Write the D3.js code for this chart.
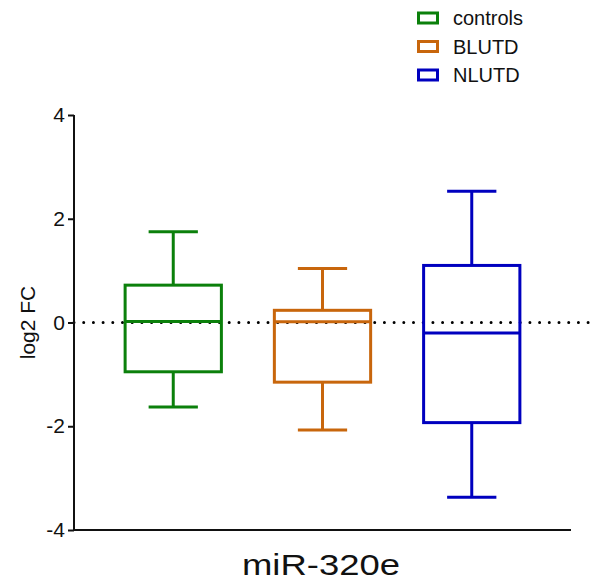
<!DOCTYPE html>
<html>
<head>
<meta charset="utf-8">
<script src="https://cdn.jsdelivr.net/npm/d3@7/dist/d3.min.js"></script>
<style>
  body { margin: 0; background: #fff; }
  text { font-family: "Liberation Sans", Arial, sans-serif; fill: #111; }
</style>
</head>
<body>
<svg id="chart" width="603" height="584"></svg>
<script>
// Box plot summaries of log2 fold change for miR-320e
const groups    = ["controls", "BLUTD", "NLUTD"];
const colors    = ["#0b800b", "#c8660c", "#0000bf"];
const whiskerLo = [-1.63, -2.07, -3.37];
const q1        = [-0.95, -1.15, -1.93];
const medians   = [0.02, 0.015, -0.20];
const q3        = [0.72, 0.235, 1.10];
const whiskerHi = [1.75, 1.04, 2.53];
const yTicks    = [-4, -2, 0, 2, 4];
const yLabel    = "log2 FC";
const xTitle    = "miR-320e";

const boxes = groups.map((g, i) => ({
  name: g, color: colors[i],
  lo: whiskerLo[i], q1: q1[i], med: medians[i], q3: q3[i], hi: whiskerHi[i]
}));

const svg = d3.select("#chart");
const plotLeft = 74, plotRight = 571, plotTop = 115, plotBottom = 530;

const y = d3.scaleLinear().domain([-4, 4]).range([plotBottom, plotTop]);
const x = d3.scalePoint().domain(groups).range([plotLeft, plotRight]).padding(0.665);
const boxW = x.step() * 0.645;
const capW = x.step() * 0.33;

// zero reference line (dotted)
svg.append("line")
  .attr("x1", plotLeft).attr("x2", 593)
  .attr("y1", y(0)).attr("y2", y(0))
  .attr("stroke", "#000").attr("stroke-width", 3)
  .attr("stroke-linecap", "round")
  .attr("stroke-dasharray", "0 9.7");

// boxes
const g = svg.append("g").selectAll("g").data(boxes).join("g")
  .attr("stroke", d => d.color).attr("stroke-width", 3).attr("fill", "none");

g.append("line")
  .attr("x1", d => x(d.name)).attr("x2", d => x(d.name))
  .attr("y1", d => y(d.hi)).attr("y2", d => y(d.q3));
g.append("line")
  .attr("x1", d => x(d.name)).attr("x2", d => x(d.name))
  .attr("y1", d => y(d.q1)).attr("y2", d => y(d.lo));
g.append("line")
  .attr("x1", d => x(d.name) - capW / 2).attr("x2", d => x(d.name) + capW / 2)
  .attr("y1", d => y(d.hi)).attr("y2", d => y(d.hi));
g.append("line")
  .attr("x1", d => x(d.name) - capW / 2).attr("x2", d => x(d.name) + capW / 2)
  .attr("y1", d => y(d.lo)).attr("y2", d => y(d.lo));
g.append("rect")
  .attr("x", d => x(d.name) - boxW / 2).attr("width", boxW)
  .attr("y", d => y(d.q3)).attr("height", d => y(d.q1) - y(d.q3))
  .attr("fill", "none");
g.append("line")
  .attr("x1", d => x(d.name) - boxW / 2).attr("x2", d => x(d.name) + boxW / 2)
  .attr("y1", d => y(d.med)).attr("y2", d => y(d.med));

// y axis
const yAxis = svg.append("g")
  .attr("transform", `translate(${plotLeft},0)`)
  .call(d3.axisLeft(y).tickValues(yTicks).tickSize(6).tickPadding(3).tickFormat(d => String(d)));
yAxis.attr("font-size", 21).attr("font-family", "Liberation Sans, Arial, sans-serif");
yAxis.select(".domain").attr("stroke", "#111").attr("stroke-width", 2).attr("d", `M0,${plotTop}V${plotBottom}`);
yAxis.selectAll(".tick line").attr("stroke", "#111").attr("stroke-width", 2);
yAxis.selectAll(".tick text").style("font-size", "21px").attr("fill", "#111");

// x axis line
svg.append("line")
  .attr("x1", plotLeft - 1).attr("x2", plotRight)
  .attr("y1", plotBottom).attr("y2", plotBottom)
  .attr("stroke", "#111").attr("stroke-width", 2);

// axis titles
svg.append("text")
  .attr("transform", `translate(35,${y(0)}) rotate(-90)`)
  .attr("text-anchor", "middle")
  .style("font-size", "21px")
  .text(yLabel);

svg.append("text")
  .attr("x", 242).attr("y", 575)
  .attr("textLength", 158).attr("lengthAdjust", "spacingAndGlyphs")
  .style("font-size", "30px")
  .text(xTitle);

// legend
const legend = svg.append("g").selectAll("g").data(boxes).join("g")
  .attr("transform", (d, i) => `translate(417,${18 + i * 28.5})`);
legend.append("rect")
  .attr("x", 1.5).attr("y", -5).attr("width", 19).attr("height", 10)
  .attr("fill", "none").attr("stroke", d => d.color).attr("stroke-width", 3);
legend.append("text")
  .attr("x", 36).attr("y", 7)
  .style("font-size", "20px")
  .text(d => d.name);
</script>
</body>
</html>
